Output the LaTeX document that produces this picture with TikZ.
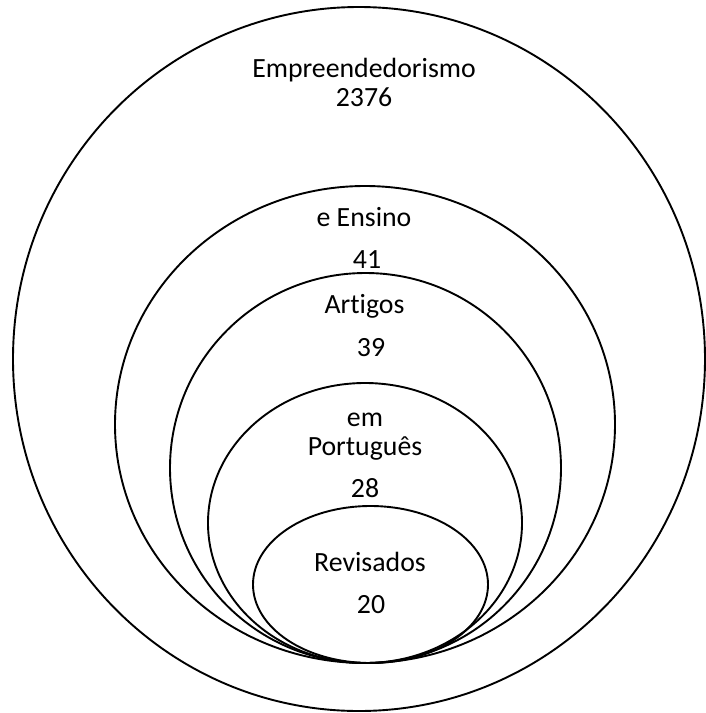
\documentclass[tikz,border=0pt]{standalone}
\usepackage{fontspec}
\setmainfont{Carlito}[Ligatures=NoCommon]
\usepackage{tikz}
\usetikzlibrary{shapes.geometric}

\begin{document}
\begin{tikzpicture}[x=1pt, y=-1pt,
  ring/.style={draw, ellipse, line width=1.9pt, inner sep=0pt},
  label/.style={anchor=base, font=\fontsize{27.8}{30}\selectfont}]
\useasboundingbox (0,0) rectangle (705,713);

\node[ring, minimum width=692pt, minimum height=704pt] (ring_0) at (359,359) {};
\node[ring, minimum width=500pt, minimum height=477pt] (ring_1) at (365,424.5) {};
\node[ring, minimum width=391pt, minimum height=390pt] (ring_2) at (365.5,468) {};
\node[ring, minimum width=314pt, minimum height=280pt] (ring_3) at (365,523) {};
\node[ring, minimum width=235pt, minimum height=157pt] (ring_4) at (370.5,584.5) {};

\node[label] (title_0) at (364,77) {Empreendedorismo};
\node[label] (count_0) at (364,106) {2376};
\node[label] (title_1) at (364,226) {e Ensino};
\node[label] (count_1) at (367,268) {41};
\node[label] (title_2) at (364.5,313) {Artigos};
\node[label] (count_2) at (371,356) {39};
\node[label] (title_3a) at (365,426) {em};
\node[label] (title_3b) at (365,455) {Português};
\node[label] (count_3) at (365,497) {28};
\node[label] (title_4) at (370,571) {Revisados};
\node[label] (count_4) at (371,613) {20};

\end{tikzpicture}
\end{document}
